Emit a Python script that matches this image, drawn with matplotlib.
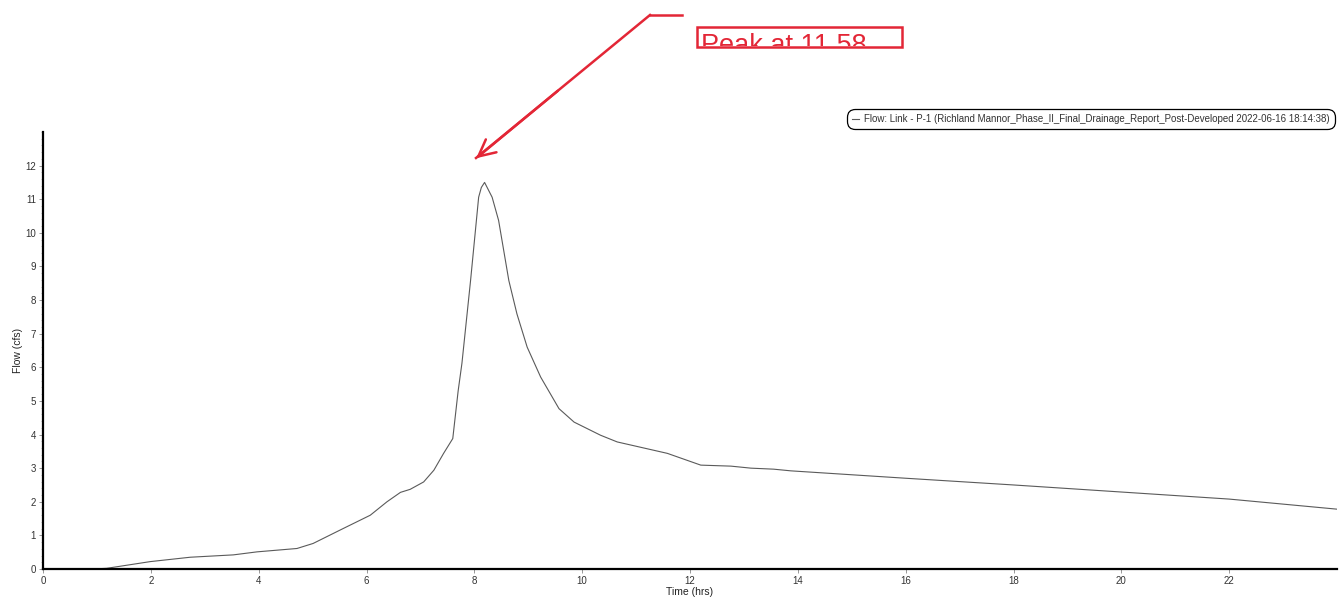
import matplotlib.pyplot as plt
from matplotlib.patches import Rectangle
from matplotlib.ticker import MultipleLocator

plt.rcParams['font.family'] = ['Liberation Sans', 'DejaVu Sans']

# hydrograph
time_hrs = [0.0, 0.93, 1.18, 1.99, 2.73, 3.53, 3.97, 4.71, 5.01, 5.55, 6.07, 6.38, 6.63,
            6.81, 7.06, 7.25, 7.43, 7.6, 7.7, 7.77, 7.93, 8.08, 8.13, 8.19, 8.33, 8.45,
            8.64, 8.79, 8.98, 9.23, 9.57, 9.85, 10.34, 10.65, 11.58, 12.2, 12.76, 13.13,
            13.55, 13.87, 16.0, 18.0, 20.0, 22.0, 24.0]
flow_cfs = [0.0, 0.0, 0.02, 0.22, 0.35, 0.42, 0.51, 0.61, 0.76, 1.19, 1.6, 2.0, 2.28,
            2.37, 2.59, 2.94, 3.44, 3.88, 5.3, 6.12, 8.58, 11.06, 11.35, 11.5, 11.06, 10.37,
            8.58, 7.59, 6.6, 5.71, 4.77, 4.37, 3.98, 3.78, 3.44, 3.09, 3.06, 3.0,
            2.97, 2.92, 2.7, 2.5, 2.29, 2.08, 1.78]
legend_label = "Flow: Link - P-1 (Richland Mannor_Phase_II_Final_Drainage_Report_Post-Developed 2022-06-16 18:14:38)"
peak_text = "Peak at 11.58"

W, H = 1340, 608
fig = plt.figure(figsize=(W / 100, H / 100), dpi=100)
ax = fig.add_axes([43 / W, (H - 569) / H, (1337 - 43) / W, (569 - 132) / H])

ax.plot(time_hrs, flow_cfs, color='#5a5a5a', lw=0.8, label=legend_label)
ax.set_xlim(0, 24)
ax.set_ylim(0, 13)
ax.set_xticks(range(0, 24, 2))
ax.set_yticks(range(0, 13))
ax.yaxis.set_minor_locator(MultipleLocator(0.2))
ax.tick_params(labelsize=7, labelcolor='#333333', length=3, width=0.6, color='#888888', pad=2)
ax.tick_params(which='minor', length=1.5, width=0.5, color='#aaaaaa')
ax.set_xlabel('Time (hrs)', fontsize=7.5, color='#222222', labelpad=1)
ax.set_ylabel('Flow (cfs)', fontsize=7.5, color='#222222', labelpad=2)
for s in ['top', 'right']:
    ax.spines[s].set_visible(False)
for s in ['left', 'bottom']:
    ax.spines[s].set_linewidth(1.6)

leg = ax.legend(loc='upper right', bbox_to_anchor=(0.9975, 1.05), fontsize=7,
                handlelength=0.8, handletextpad=0.5, borderpad=0.3, borderaxespad=0.1,
                framealpha=1, edgecolor='black', fancybox=True, labelcolor='#333333')
leg.get_frame().set_linewidth(0.9)
leg.get_frame().set_boxstyle('round', pad=0.2, rounding_size=0.8)
leg.get_lines()[0].set_linewidth(0.8)

# red annotation drawn in figure pixels
red = '#e32636'
def fx(px):
    return px / W
def fy(py):
    return 1 - py / H

fig.add_artist(plt.Line2D([fx(650), fx(682)], [fy(15), fy(15)], color=red, lw=1.8))
fig.add_artist(plt.Line2D([fx(650), fx(476)], [fy(15), fy(158)], color=red, lw=1.8))
ax.annotate('', xy=(fx(474), fy(160)), xytext=(fx(560), fy(89)),
            xycoords='figure fraction', textcoords='figure fraction',
            arrowprops=dict(arrowstyle='->,head_length=1.2,head_width=0.6', color=red, lw=1.8),
            annotation_clip=False)
box = Rectangle((fx(697), fy(47)), fx(902) - fx(697), fy(27) - fy(47),
                transform=fig.transFigure, fill=False, edgecolor=red, lw=1.8)
fig.add_artist(box)
clip = Rectangle((fx(697), fy(46)), fx(902) - fx(697), fy(27) - fy(46),
                 transform=fig.transFigure, fill=False, lw=0)
t = fig.text(fx(701), fy(53), peak_text, color=red, fontsize=19.5, va='baseline', ha='left')
t.set_clip_path(clip)

fig.savefig('out.png', dpi=100, facecolor='white')
